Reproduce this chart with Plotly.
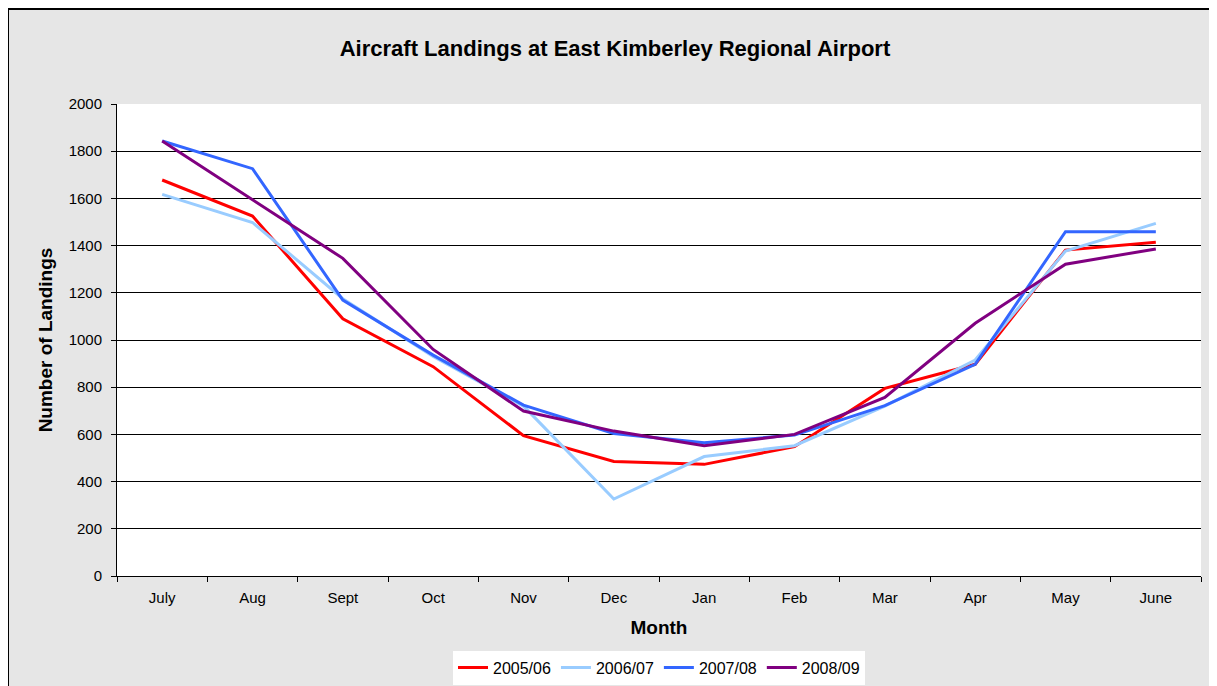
import plotly.graph_objects as go

months = ["July", "Aug", "Sept", "Oct", "Nov", "Dec", "Jan", "Feb", "Mar", "Apr", "May", "June"]
series_names = ["2005/06", "2006/07", "2007/08", "2008/09"]
y_2005_06 = [1678, 1525, 1090, 887, 595, 485, 473, 548, 795, 897, 1381, 1414]
y_2006_07 = [1617, 1498, 1175, 930, 720, 326, 506, 552, 720, 915, 1377, 1494]
y_2007_08 = [1843, 1726, 1169, 936, 724, 604, 565, 597, 722, 897, 1459, 1459]
y_2008_09 = [1843, 1596, 1346, 960, 699, 614, 552, 600, 757, 1071, 1321, 1386]
colors = ["#ff0000", "#99ccff", "#3366ff", "#800080"]

# page body has an 8px margin, so the figure is laid out 8px in from the window
OFF = 8
W, H = 1217 - OFF, 686 - OFF
L, R, T, B = 117 - OFF, 16, 104 - OFF, 110
pw, ph = W - L - R, H - T - B


def px_x(wx):
    return (wx - OFF - L) / pw


def px_y(wy):
    return (H - B - (wy - OFF)) / ph


fig = go.Figure()
for name, ys, c in zip(series_names, [y_2005_06, y_2006_07, y_2007_08, y_2008_09], colors):
    fig.add_trace(go.Scatter(x=months, y=ys, name=name, mode="lines",
                             line=dict(color=c, width=3)))

font = "Liberation Sans, Arial, sans-serif"
fig.update_layout(
    width=W, height=H,
    margin=dict(l=L, r=R, t=T, b=B, autoexpand=False),
    paper_bgcolor="#e6e6e6",
    plot_bgcolor="#ffffff",
    font=dict(family=font, size=15, color="#000000"),
    title=dict(text="<b>Aircraft Landings at East Kimberley Regional Airport</b>",
               x=(615 - OFF) / W, xanchor="center", y=1 - (48 - OFF) / H, yanchor="middle",
               font=dict(size=22, family=font, color="#000000")),
    showlegend=True,
    legend=dict(orientation="h", xref="container", yref="container",
                x=(659 - OFF) / W, xanchor="center",
                y=1 - (667.5 - OFF) / H, yanchor="middle",
                bgcolor="#ffffff", font=dict(size=16), itemwidth=30,
                tracegroupgap=0),
    xaxis=dict(
        type="category", range=[-0.5, 11.5], automargin=False,
        showline=True, linecolor="#000000", linewidth=1,
        ticks="outside", ticklen=5, tickcolor="#000000", tickson="boundaries",
        showgrid=False, zeroline=False,
        tickfont=dict(size=15), ticklabelstandoff=8,
        title=dict(text="<b>Month</b>", font=dict(size=19), standoff=15),
    ),
    yaxis=dict(
        range=[0, 2000], dtick=200, tick0=0, automargin=False,
        showline=True, linecolor="#000000", linewidth=1,
        ticks="outside", ticklen=5, tickcolor="#000000",
        showgrid=True, gridcolor="#000000", gridwidth=1,
        zeroline=False,
        tickfont=dict(size=15), ticklabelstandoff=6,
        title=dict(text="<b>Number of Landings</b>", font=dict(size=19), standoff=10),
    ),
    shapes=[dict(type="rect", xref="paper", yref="paper",
                 x0=px_x(8), x1=px_x(1260),
                 y0=px_y(730), y1=px_y(9),
                 line=dict(color="#000000", width=2), fillcolor="rgba(0,0,0,0)",
                 layer="below")],
)

fig.write_html("out.html")
